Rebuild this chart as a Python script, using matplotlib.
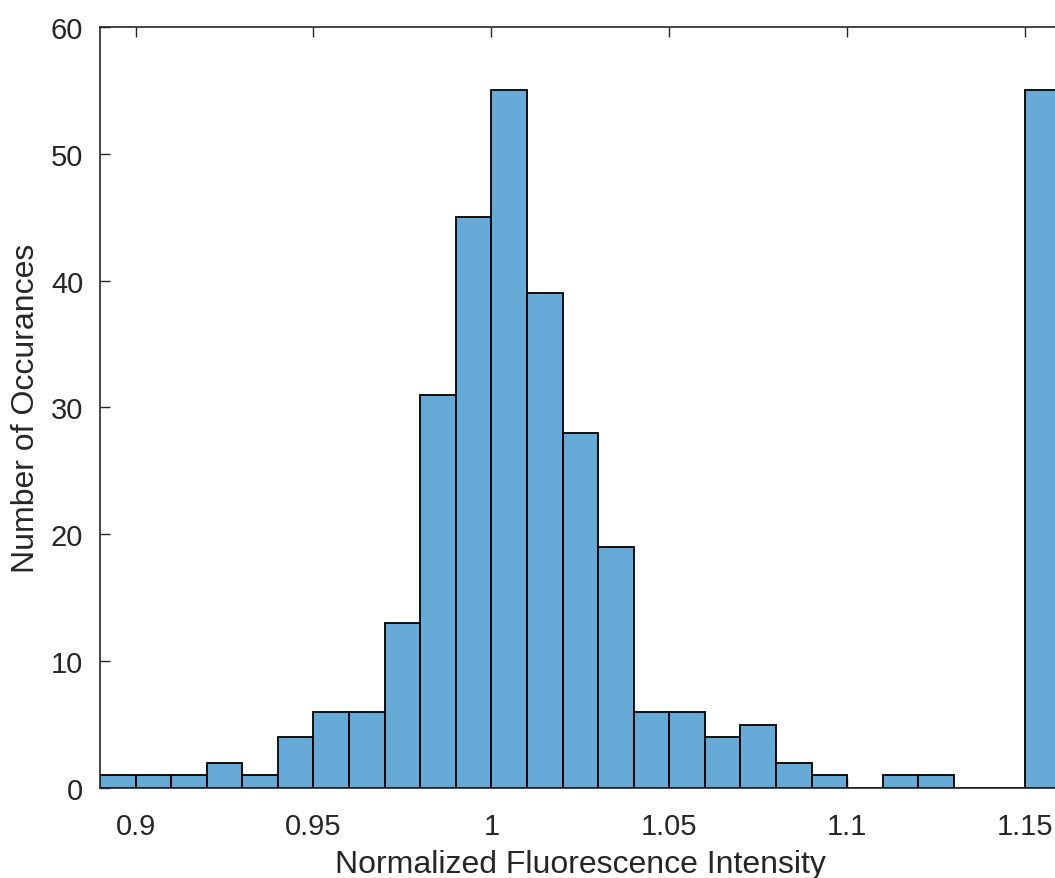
import matplotlib.pyplot as plt
import numpy as np

plt.rcParams['font.family'] = ['Liberation Sans', 'DejaVu Sans']

# histogram bins (width 0.01) and counts
bin_start = 0.89
bin_width = 0.01
counts = [1, 1, 1, 2, 1, 4, 6, 6, 13, 31, 45, 55, 39, 28, 19,
          6, 6, 4, 5, 2, 1, 0, 1, 1, 0, 0, 55]
xticks = [0.9, 0.95, 1.0, 1.05, 1.1, 1.15]
xtick_labels = ['0.9', '0.95', '1', '1.05', '1.1', '1.15']
yticks = [0, 10, 20, 30, 40, 50, 60]

bin_left = bin_start + bin_width * np.arange(len(counts))

fig = plt.figure(figsize=(10.55, 8.79), dpi=100)
ax = fig.add_axes([0.0948, 0.1024, 0.9105, 0.8658])

ax.bar(bin_left, counts, width=bin_width, align='edge',
       color='#66aad7', edgecolor='black', linewidth=1.3, zorder=2)

ax.set_xlim(0.89, 1.16)
ax.set_ylim(0, 60)
ax.set_xticks(xticks)
ax.set_xticklabels(xtick_labels)
ax.set_yticks(yticks)

txt = '#262626'
ax.tick_params(direction='in', length=7, width=1, colors=txt,
               labelsize=21, top=True, right=False)
ax.tick_params(axis='x', pad=17)
ax.tick_params(axis='y', pad=12)
for s in ax.spines.values():
    s.set_color(txt)
    s.set_linewidth(1.2)

ax.set_xlabel('Normalized Fluorescence Intensity', fontsize=23, color=txt, labelpad=7)
ax.set_ylabel('Number of Occurances', fontsize=23, color=txt, labelpad=7)

fig.savefig('out.png', dpi=100)
